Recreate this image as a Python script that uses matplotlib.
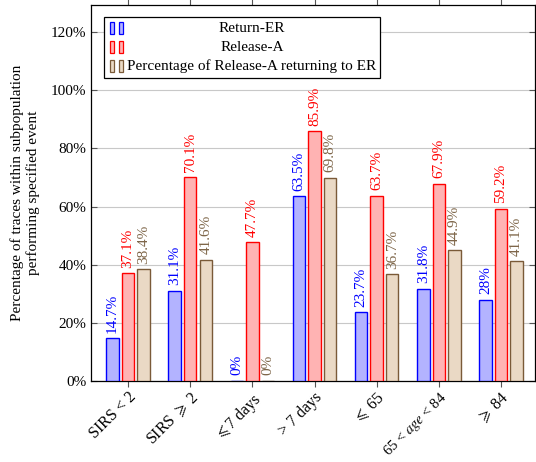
import matplotlib
matplotlib.use("Agg")
import matplotlib.pyplot as plt
from matplotlib.patches import Rectangle
import numpy as np

plt.rcParams['font.family'] = ['Liberation Serif', 'DejaVu Serif']
plt.rcParams['mathtext.fontset'] = 'stix'

categories = ["SIRS < 2", r"SIRS $\geqslant$ 2", r"$\leqslant$7 days", "> 7 days",
              r"$\leqslant$ 65", r"65 < $\mathit{age}$ < 84", r"$\geqslant$ 84"]
return_er = [14.7, 31.1, 0, 63.5, 23.7, 31.8, 28]
release_a = [37.1, 70.1, 47.7, 85.9, 63.7, 67.9, 59.2]
release_return = [38.4, 41.6, 0, 69.8, 36.7, 44.9, 41.1]
series_names = ["Return-ER", "Release-A", "Percentage of Release-A returning to ER"]
yticks = [0, 20, 40, 60, 80, 100, 120]

fills = ["#b3b3ff", "#ffb3b3", "#ead9c5"]
edges = ["#0000ff", "#ff0000", "#7a5a38"]
txtcols = ["#0000ff", "#ff0000", "#7d6548"]
fs = 11

fig = plt.figure(figsize=(5.36, 4.62), dpi=100)
ax = fig.add_axes([0.170, 0.1753, 0.829, 0.8139])

x = np.arange(len(categories))
width = 0.2
offsets = [-0.25, 0, 0.25]
for vals, off, fc, ec, tc in zip([return_er, release_a, release_return],
                                 offsets, fills, edges, txtcols):
    bars = ax.bar(x + off, vals, width, color=fc, edgecolor=ec, linewidth=1.0, zorder=3)
    for b, v in zip(bars, vals):
        ax.annotate("{:g}%".format(v), (b.get_x() + b.get_width() / 2, v),
                    xytext=(0, 4), textcoords="offset points", rotation=90,
                    ha="center", va="bottom", color=tc, fontsize=fs)

ax.set_xlim(-0.595, 6.555)
ax.set_ylim(0, 129.3)
ax.set_yticks(yticks)
ax.set_yticklabels(["{}%".format(t) for t in yticks], fontsize=fs)
ax.set_xticks(x)
ax.set_xticklabels(categories, rotation=45, ha="right", rotation_mode="anchor", fontsize=11.5)
ax.get_xticklabels()[5].set_fontsize(10.5)
ax.yaxis.grid(True, color="#c8c8c8", linewidth=0.8, zorder=0)
ax.set_axisbelow(True)
ax.tick_params(axis="x", direction="out", top=True, length=4, color="#555555", pad=2)
ax.tick_params(axis="y", direction="in", right=True, length=4, color="#555555")
for s in ax.spines.values():
    s.set_linewidth(0.9)

ax.set_ylabel("Percentage of traces within subpopulation\nperforming specified event",
              fontsize=fs, labelpad=8)

# legend drawn by hand so entry texts can be centred
tr = ax.transAxes
lx0, lx1 = 0.0295, 0.6505
ly0, ly1 = 0.806, 0.968
ax.add_patch(Rectangle((lx0, ly0), lx1 - lx0, ly1 - ly0, transform=tr,
                       facecolor="white", edgecolor="black", linewidth=0.9, zorder=5))
rows = [0.9385, 0.888, 0.837]
for name, fc, ec, ry in zip(series_names, fills, edges, rows):
    for hx in [0.042, 0.062]:
        ax.add_patch(Rectangle((hx, ry - 0.016), 0.0095, 0.032, transform=tr,
                               facecolor=fc, edgecolor=ec, linewidth=0.9, zorder=6))
    ax.text(0.362, ry, name, transform=tr, ha="center", va="center",
            fontsize=fs, zorder=6)

fig.savefig("out.png", dpi=100)
